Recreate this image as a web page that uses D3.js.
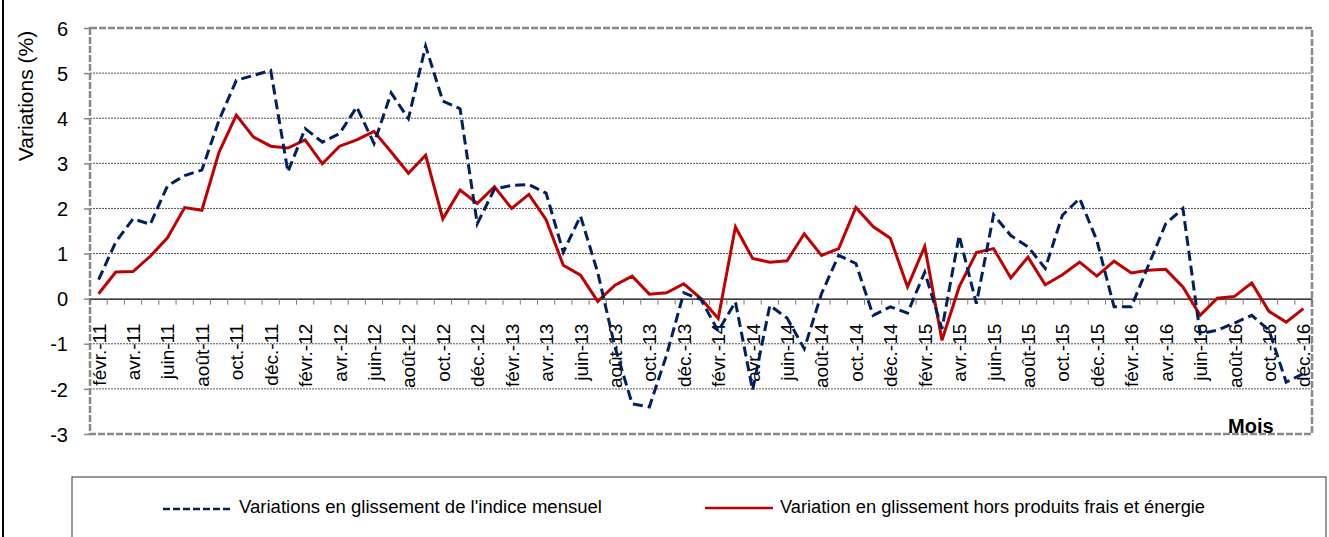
<!DOCTYPE html>
<html><head><meta charset="utf-8">
<script src="https://cdn.jsdelivr.net/npm/d3@7"></script>
<style>body{margin:0;background:#fff}svg{display:block}text{font-family:"Liberation Sans",Arial,sans-serif}</style>
</head><body><svg id="c" width="1329" height="537"></svg>
<script>
const monthNames = ["janv.","févr.","mars","avr.","mai","juin","juil.","août","sept.","oct.","nov.","déc."];
const months = [];
for (let y = 2011; y <= 2016; y++) for (let m = 0; m < 12; m++) { if (y === 2011 && m === 0) continue; months.push(monthNames[m] + "-" + String(y).slice(2)); }
const indiceMensuel = [0.42,1.26,1.77,1.65,2.50,2.73,2.85,3.96,4.84,4.95,5.06,2.81,3.77,3.47,3.66,4.25,3.44,4.56,3.99,5.60,4.38,4.21,1.66,2.43,2.51,2.53,2.34,1.03,1.83,0.58,-1.07,-2.33,-2.40,-1.25,0.13,-0.02,-0.72,-0.07,-2.03,-0.15,-0.43,-1.11,0.11,0.96,0.78,-0.37,-0.18,-0.32,0.59,-0.67,1.40,-0.11,1.86,1.40,1.15,0.67,1.85,2.22,1.29,-0.18,-0.18,0.74,1.66,2.00,-0.78,-0.70,-0.54,-0.37,-0.70,-1.85,-1.66];
const horsFraisEnergie = [0.11,0.59,0.60,0.94,1.35,2.02,1.96,3.25,4.07,3.58,3.38,3.34,3.52,2.99,3.38,3.52,3.71,3.25,2.78,3.18,1.77,2.41,2.11,2.48,2.00,2.31,1.75,0.74,0.52,-0.06,0.30,0.50,0.10,0.13,0.33,0.00,-0.44,1.59,0.89,0.81,0.84,1.44,0.96,1.11,2.02,1.60,1.34,0.26,1.16,-0.92,0.26,1.02,1.11,0.46,0.92,0.31,0.53,0.81,0.50,0.83,0.57,0.63,0.65,0.26,-0.37,0.01,0.05,0.35,-0.28,-0.52,-0.22];
const yTicks = [6,5,4,3,2,1,0,-1,-2,-3];
const seriesNames = ["Variations en glissement de l'indice mensuel","Variation en glissement hors produits frais et énergie"];

const svg = d3.select("#c");
const L = 90, R = 1312, T = 28, B = 434;
const x = d3.scaleBand().domain(months).range([L, R]).paddingInner(0).paddingOuter(0);
const y = d3.scaleLinear().domain([-3, 6]).range([B, T]);
const cx = m => x(m) + x.bandwidth() / 2;

// outer left frame line
svg.append("line").attr("x1",3).attr("x2",3).attr("y1",0).attr("y2",537).attr("stroke","#000").attr("stroke-width",2);

// gridlines
svg.append("g").selectAll("line").data(yTicks.filter(v => v !== 6 && v !== -3 && v !== 0)).join("line")
  .attr("x1", L).attr("x2", R).attr("y1", d => y(d)).attr("y2", d => y(d))
  .attr("stroke", "#555").attr("stroke-width", 1).attr("stroke-dasharray", "2,1");

// y ticks and labels
const yAxis = d3.axisLeft(y).tickValues(yTicks).tickSize(6).tickFormat(d => String(d));
const gy = svg.append("g").attr("transform", `translate(${L},0)`).call(yAxis);
gy.select(".domain").remove();
gy.selectAll(".tick line").attr("stroke", "#888").attr("stroke-width", 1.5);
gy.selectAll(".tick text").attr("font-size", 20).attr("fill", "#000").attr("x", -22).attr("dy", "0.36em")
  .style("font-family", '"Liberation Sans",Arial,sans-serif');

// plot border (dashed)
svg.append("rect").attr("x", L).attr("y", T).attr("width", R - L).attr("height", B - T)
  .attr("fill", "none").attr("stroke", "#888").attr("stroke-width", 2.5).attr("stroke-dasharray", "7,2");

// zero axis with ticks
const xAxis = d3.axisBottom(x).tickSize(0).tickFormat("");
const gx = svg.append("g").attr("transform", `translate(0,${y(0)})`).call(xAxis);
gx.select(".domain").attr("stroke", "#000").attr("stroke-width", 1.3);
gx.selectAll(".tick").remove();
svg.append("g").selectAll("line").data(months.concat(["__end"])).join("line")
  .attr("x1", (d, i) => L + i * x.bandwidth()).attr("x2", (d, i) => L + i * x.bandwidth())
  .attr("y1", y(0)).attr("y2", y(0) + 6).attr("stroke", "#777").attr("stroke-width", 1);

// x labels (every other month)
svg.append("g").selectAll("text").data(months.filter((d, i) => i % 2 === 0)).join("text")
  .attr("transform", d => `translate(${cx(d) + 7},${y(0) + 25}) rotate(-90)`)
  .attr("text-anchor", "end").attr("font-size", 19).attr("fill", "#000").text(d => d);

// lines
const line = d3.line().x((d, i) => cx(months[i])).y(d => y(d));
svg.append("path").datum(horsFraisEnergie).attr("d", line).attr("fill", "none")
  .attr("stroke", "#C00000").attr("stroke-width", 3).attr("stroke-linejoin", "miter");
svg.append("path").datum(indiceMensuel).attr("d", line).attr("fill", "none")
  .attr("stroke", "#002060").attr("stroke-width", 3).attr("stroke-dasharray", "10,5");

// axis titles
svg.append("text").attr("transform", "translate(33,96) rotate(-90)").attr("text-anchor", "middle")
  .attr("font-size", 21).attr("fill", "#000").text("Variations (%)");
svg.append("text").attr("x", 1228).attr("y", 433).attr("font-size", 20).attr("font-weight", "bold")
  .attr("fill", "#000").text("Mois");

// legend
svg.append("rect").attr("x", 72).attr("y", 477).attr("width", 1254).attr("height", 80)
  .attr("fill", "#fff").attr("stroke", "#555").attr("stroke-width", 1.2);
svg.append("line").attr("x1", 163).attr("x2", 233).attr("y1", 509).attr("y2", 509)
  .attr("stroke", "#002060").attr("stroke-width", 2.5).attr("stroke-dasharray", "7,3");
svg.append("text").attr("x", 239).attr("y", 513).attr("font-size", 18).attr("fill", "#000")
  .attr("textLength", 363).attr("lengthAdjust", "spacingAndGlyphs").text(seriesNames[0]);
svg.append("line").attr("x1", 705).attr("x2", 773).attr("y1", 508).attr("y2", 508)
  .attr("stroke", "#C00000").attr("stroke-width", 2.5);
svg.append("text").attr("x", 780).attr("y", 513).attr("font-size", 18).attr("fill", "#000")
  .attr("textLength", 425).attr("lengthAdjust", "spacingAndGlyphs").text(seriesNames[1]);
</script></body></html>
